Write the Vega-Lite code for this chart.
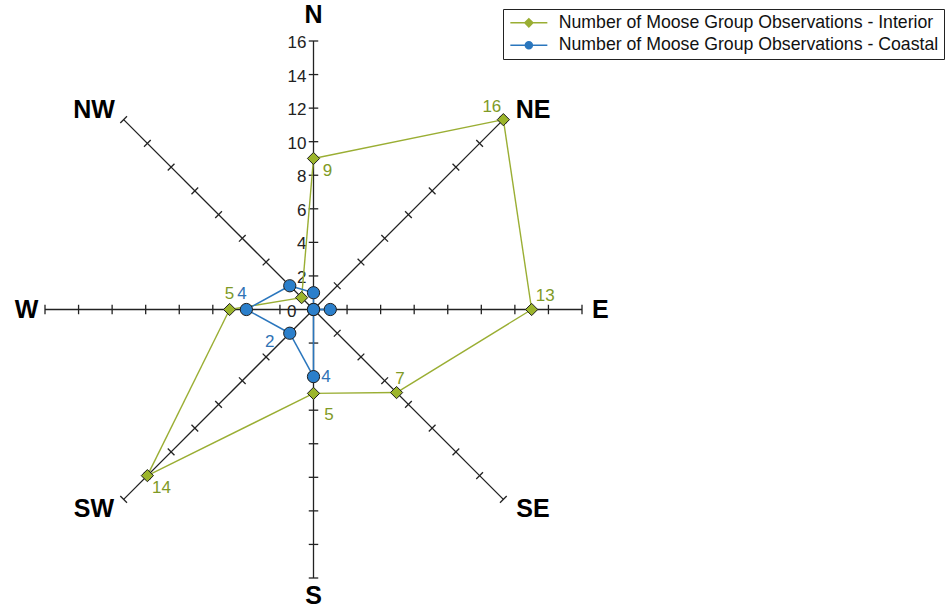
{
  "$schema": "https://vega.github.io/schema/vega-lite/v6.json",
  "width": 537,
  "height": 537,
  "autosize": {"type": "none"},
  "padding": {"left": 45, "top": 41, "right": 368, "bottom": 33},
  "background": "white",
  "config": {"view": {"stroke": null}, "font": "Liberation Sans"},
  "datasets": {
    "dirs": [
      {"dir": "N", "angle": 0, "ticks": [2, 4, 6, 8, 10, 12, 14, 16]},
      {"dir": "NE", "angle": 45, "ticks": [2, 4, 6, 8, 10, 12, 14, 16]},
      {"dir": "E", "angle": 90, "ticks": [2, 4, 6, 8, 10, 12, 14, 16]},
      {"dir": "SE", "angle": 135, "ticks": [2, 4, 6, 8, 10, 12, 14, 16]},
      {"dir": "S", "angle": 180, "ticks": [2, 4, 6, 8, 10, 12, 14, 16]},
      {"dir": "SW", "angle": 225, "ticks": [2, 4, 6, 8, 10, 12, 14, 16]},
      {"dir": "W", "angle": 270, "ticks": [2, 4, 6, 8, 10, 12, 14, 16]},
      {"dir": "NW", "angle": 315, "ticks": [2, 4, 6, 8, 10, 12, 14, 16]}
    ],
    "obs": [
      {"series": "Interior", "dir": "N", "angle": 0, "value": 9},
      {"series": "Interior", "dir": "NE", "angle": 45, "value": 16},
      {"series": "Interior", "dir": "E", "angle": 90, "value": 13},
      {"series": "Interior", "dir": "SE", "angle": 135, "value": 7},
      {"series": "Interior", "dir": "S", "angle": 180, "value": 5},
      {"series": "Interior", "dir": "SW", "angle": 225, "value": 14},
      {"series": "Interior", "dir": "W", "angle": 270, "value": 5},
      {"series": "Interior", "dir": "NW", "angle": 315, "value": 1},
      {"series": "Coastal", "dir": "N", "angle": 0, "value": 1},
      {"series": "Coastal", "dir": "NE", "angle": 45, "value": 0},
      {"series": "Coastal", "dir": "E", "angle": 90, "value": 1},
      {"series": "Coastal", "dir": "SE", "angle": 135, "value": 0},
      {"series": "Coastal", "dir": "S", "angle": 180, "value": 4},
      {"series": "Coastal", "dir": "SW", "angle": 225, "value": 2},
      {"series": "Coastal", "dir": "W", "angle": 270, "value": 4},
      {"series": "Coastal", "dir": "NW", "angle": 315, "value": 2}
    ],
    "legendItems": [
      {"series": "Number of Moose Group Observations - Interior"},
      {"series": "Number of Moose Group Observations - Coastal"}
    ]
  },
  "layer": [
    {
      "data": {"name": "legendItems"},
      "mark": {"type": "point", "filled": true, "opacity": 0, "strokeWidth": 1.5},
      "encoding": {
        "color": {
          "field": "series", "type": "nominal",
          "scale": {"domain": ["Number of Moose Group Observations - Interior", "Number of Moose Group Observations - Coastal"], "range": ["#9aae33", "#2a76bd"]},
          "legend": {
            "orient": "none", "legendX": 458, "legendY": -32, "title": null, "direction": "vertical",
            "strokeColor": "#222", "fillColor": "#ffffff", "padding": 5,
            "symbolSize": 100, "symbolOffset": 12, "labelOffset": 21,
            "labelFont": "Liberation Sans", "labelFontSize": 17.7, "labelColor": "#111",
            "labelLimit": 600, "rowPadding": 3.3,
            "encode": {"symbols": {"update": {"opacity": {"value": 1}}}}
          }
        },
        "stroke": {
          "field": "series", "type": "nominal",
          "scale": {"domain": ["Number of Moose Group Observations - Interior", "Number of Moose Group Observations - Coastal"], "range": ["#9aae33", "#2a76bd"]}
        },
        "shape": {
          "field": "series", "type": "nominal",
          "scale": {"domain": ["Number of Moose Group Observations - Interior", "Number of Moose Group Observations - Coastal"],
            "range": ["M-3.7,0L-0.8,0M0.8,0L3.7,0M0,-0.8L0.8,0L0,0.8L-0.8,0Z", "M-3.7,0L-0.7,0M0.7,0L3.7,0M0.7,0A0.7,0.7,0,1,1,-0.7,0A0.7,0.7,0,1,1,0.7,0Z"]}
        }
      }
    },
    {
      "data": {"name": "dirs"},
      "transform": [
        {"calculate": "0", "as": "o"},
        {"calculate": "16*sin(datum.angle*PI/180)", "as": "ex"},
        {"calculate": "16*cos(datum.angle*PI/180)", "as": "ey"}
      ],
      "mark": {"type": "rule", "color": "#222", "strokeWidth": 1.3},
      "encoding": {
        "x": {"field": "o", "type": "quantitative", "scale": {"domain": [-16, 16], "nice": false, "zero": false}, "axis": null},
        "y": {"field": "o", "type": "quantitative", "scale": {"domain": [-16, 16], "nice": false, "zero": false}, "axis": null},
        "x2": {"field": "ex"},
        "y2": {"field": "ey"}
      }
    },
    {
      "data": {"name": "dirs"},
      "transform": [
        {"flatten": ["ticks"]},
        {"calculate": "datum.ticks*sin(datum.angle*PI/180)", "as": "tx"},
        {"calculate": "datum.ticks*cos(datum.angle*PI/180)", "as": "ty"}
      ],
      "mark": {"type": "point", "shape": "M-1,0L1,0", "size": 90, "filled": false, "stroke": "#222", "strokeWidth": 1.3, "opacity": 1},
      "encoding": {
        "x": {"field": "tx", "type": "quantitative", "scale": {"domain": [-16, 16], "nice": false, "zero": false}, "axis": null},
        "y": {"field": "ty", "type": "quantitative", "scale": {"domain": [-16, 16], "nice": false, "zero": false}, "axis": null},
        "angle": {"field": "angle", "type": "quantitative", "scale": null}
      }
    },
    {
      "data": {"values": [{"t": 2}, {"t": 4}, {"t": 6}, {"t": 8}, {"t": 10}, {"t": 12}, {"t": 14}, {"t": 16}]},
      "transform": [{"calculate": "0", "as": "o"}],
      "mark": {"type": "text", "align": "right", "baseline": "middle", "dx": -7, "dy": 2, "font": "Liberation Sans", "fontSize": 17, "color": "#222"},
      "encoding": {
        "x": {"field": "o", "type": "quantitative", "scale": {"domain": [-16, 16], "nice": false, "zero": false}, "axis": null},
        "y": {"field": "t", "type": "quantitative", "scale": {"domain": [-16, 16], "nice": false, "zero": false}, "axis": null},
        "text": {"field": "t", "type": "nominal"}
      }
    },
    {
      "data": {"values": [{"t": 0}]},
      "transform": [{"calculate": "0", "as": "o"}],
      "mark": {"type": "text", "align": "right", "baseline": "middle", "dx": -17, "dy": 2, "font": "Liberation Sans", "fontSize": 17, "color": "#222"},
      "encoding": {
        "x": {"field": "o", "type": "quantitative", "scale": {"domain": [-16, 16], "nice": false, "zero": false}, "axis": null},
        "y": {"field": "t", "type": "quantitative", "scale": {"domain": [-16, 16], "nice": false, "zero": false}, "axis": null},
        "text": {"field": "t", "type": "nominal"}
      }
    },
    {
      "data": {"name": "obs"},
      "transform": [
        {"filter": "datum.series == 'Interior'"},
        {"calculate": "datum.value*sin(datum.angle*PI/180)", "as": "px"},
        {"calculate": "datum.value*cos(datum.angle*PI/180)", "as": "py"},
        {"window": [{"op": "lead", "field": "px", "as": "nx"}, {"op": "lead", "field": "py", "as": "ny"}, {"op": "first_value", "field": "px", "as": "fx"}, {"op": "first_value", "field": "py", "as": "fy"}], "sort": [{"field": "angle", "order": "ascending"}], "frame": [null, null]},
        {"calculate": "datum.nx == null ? datum.fx : datum.nx", "as": "qx"},
        {"calculate": "datum.ny == null ? datum.fy : datum.ny", "as": "qy"}
      ],
      "mark": {"type": "rule", "color": "#9aae33", "strokeWidth": 1.4},
      "encoding": {
        "x": {"field": "px", "type": "quantitative", "scale": {"domain": [-16, 16], "nice": false, "zero": false}, "axis": null},
        "y": {"field": "py", "type": "quantitative", "scale": {"domain": [-16, 16], "nice": false, "zero": false}, "axis": null},
        "x2": {"field": "qx"},
        "y2": {"field": "qy"}
      }
    },
    {
      "data": {"name": "obs"},
      "transform": [
        {"filter": "datum.series == 'Coastal'"},
        {"calculate": "datum.value*sin(datum.angle*PI/180)", "as": "px"},
        {"calculate": "datum.value*cos(datum.angle*PI/180)", "as": "py"},
        {"window": [{"op": "lead", "field": "px", "as": "nx"}, {"op": "lead", "field": "py", "as": "ny"}, {"op": "first_value", "field": "px", "as": "fx"}, {"op": "first_value", "field": "py", "as": "fy"}], "sort": [{"field": "angle", "order": "ascending"}], "frame": [null, null]},
        {"calculate": "datum.nx == null ? datum.fx : datum.nx", "as": "qx"},
        {"calculate": "datum.ny == null ? datum.fy : datum.ny", "as": "qy"}
      ],
      "mark": {"type": "rule", "color": "#2a76bd", "strokeWidth": 1.5},
      "encoding": {
        "x": {"field": "px", "type": "quantitative", "scale": {"domain": [-16, 16], "nice": false, "zero": false}, "axis": null},
        "y": {"field": "py", "type": "quantitative", "scale": {"domain": [-16, 16], "nice": false, "zero": false}, "axis": null},
        "x2": {"field": "qx"},
        "y2": {"field": "qy"}
      }
    },
    {
      "data": {"name": "obs"},
      "transform": [
        {"filter": "datum.series == 'Interior'"},
        {"calculate": "datum.value*sin(datum.angle*PI/180)", "as": "px"},
        {"calculate": "datum.value*cos(datum.angle*PI/180)", "as": "py"}
      ],
      "mark": {"type": "point", "shape": "diamond", "size": 150, "filled": true, "fill": "#9cb52c", "stroke": "#1e1e1e", "strokeWidth": 1, "opacity": 1},
      "encoding": {
        "x": {"field": "px", "type": "quantitative", "scale": {"domain": [-16, 16], "nice": false, "zero": false}, "axis": null},
        "y": {"field": "py", "type": "quantitative", "scale": {"domain": [-16, 16], "nice": false, "zero": false}, "axis": null}
      }
    },
    {
      "data": {"name": "obs"},
      "transform": [
        {"filter": "datum.series == 'Coastal'"},
        {"calculate": "datum.value*sin(datum.angle*PI/180)", "as": "px"},
        {"calculate": "datum.value*cos(datum.angle*PI/180)", "as": "py"}
      ],
      "mark": {"type": "point", "shape": "circle", "size": 150, "filled": true, "fill": "#2b7fcb", "stroke": "#1e1e1e", "strokeWidth": 1, "opacity": 1},
      "encoding": {
        "x": {"field": "px", "type": "quantitative", "scale": {"domain": [-16, 16], "nice": false, "zero": false}, "axis": null},
        "y": {"field": "py", "type": "quantitative", "scale": {"domain": [-16, 16], "nice": false, "zero": false}, "axis": null}
      }
    },
    {
      "data": {"name": "obs"},
      "transform": [
        {"filter": "datum.series == 'Interior' && (datum.dir == 'N' || datum.dir == 'SW')"},
        {"calculate": "datum.value*sin(datum.angle*PI/180)", "as": "px"},
        {"calculate": "datum.value*cos(datum.angle*PI/180)", "as": "py"}
      ],
      "mark": {"type": "text", "dx": 14, "dy": 12.5, "align": "center", "baseline": "middle", "font": "Liberation Sans", "fontSize": 17, "color": "#7f9a26"},
      "encoding": {
        "x": {"field": "px", "type": "quantitative", "scale": {"domain": [-16, 16], "nice": false, "zero": false}, "axis": null},
        "y": {"field": "py", "type": "quantitative", "scale": {"domain": [-16, 16], "nice": false, "zero": false}, "axis": null},
        "text": {"field": "value", "type": "nominal"}
      }
    },
    {
      "data": {"name": "obs"},
      "transform": [
        {"filter": "datum.series == 'Interior' && datum.dir == 'NE'"},
        {"calculate": "datum.value*sin(datum.angle*PI/180)", "as": "px"},
        {"calculate": "datum.value*cos(datum.angle*PI/180)", "as": "py"}
      ],
      "mark": {"type": "text", "dx": -11.5, "dy": -12.5, "align": "center", "baseline": "middle", "font": "Liberation Sans", "fontSize": 17, "color": "#7f9a26"},
      "encoding": {
        "x": {"field": "px", "type": "quantitative", "scale": {"domain": [-16, 16], "nice": false, "zero": false}, "axis": null},
        "y": {"field": "py", "type": "quantitative", "scale": {"domain": [-16, 16], "nice": false, "zero": false}, "axis": null},
        "text": {"field": "value", "type": "nominal"}
      }
    },
    {
      "data": {"name": "obs"},
      "transform": [
        {"filter": "datum.series == 'Interior' && datum.dir == 'E'"},
        {"calculate": "datum.value*sin(datum.angle*PI/180)", "as": "px"},
        {"calculate": "datum.value*cos(datum.angle*PI/180)", "as": "py"}
      ],
      "mark": {"type": "text", "dx": 13.5, "dy": -13.5, "align": "center", "baseline": "middle", "font": "Liberation Sans", "fontSize": 17, "color": "#7f9a26"},
      "encoding": {
        "x": {"field": "px", "type": "quantitative", "scale": {"domain": [-16, 16], "nice": false, "zero": false}, "axis": null},
        "y": {"field": "py", "type": "quantitative", "scale": {"domain": [-16, 16], "nice": false, "zero": false}, "axis": null},
        "text": {"field": "value", "type": "nominal"}
      }
    },
    {
      "data": {"name": "obs"},
      "transform": [
        {"filter": "datum.series == 'Interior' && datum.dir == 'SE'"},
        {"calculate": "datum.value*sin(datum.angle*PI/180)", "as": "px"},
        {"calculate": "datum.value*cos(datum.angle*PI/180)", "as": "py"}
      ],
      "mark": {"type": "text", "dx": 3.5, "dy": -14, "align": "center", "baseline": "middle", "font": "Liberation Sans", "fontSize": 17, "color": "#7f9a26"},
      "encoding": {
        "x": {"field": "px", "type": "quantitative", "scale": {"domain": [-16, 16], "nice": false, "zero": false}, "axis": null},
        "y": {"field": "py", "type": "quantitative", "scale": {"domain": [-16, 16], "nice": false, "zero": false}, "axis": null},
        "text": {"field": "value", "type": "nominal"}
      }
    },
    {
      "data": {"name": "obs"},
      "transform": [
        {"filter": "datum.series == 'Interior' && datum.dir == 'S'"},
        {"calculate": "datum.value*sin(datum.angle*PI/180)", "as": "px"},
        {"calculate": "datum.value*cos(datum.angle*PI/180)", "as": "py"}
      ],
      "mark": {"type": "text", "dx": 15.5, "dy": 21.5, "align": "center", "baseline": "middle", "font": "Liberation Sans", "fontSize": 17, "color": "#7f9a26"},
      "encoding": {
        "x": {"field": "px", "type": "quantitative", "scale": {"domain": [-16, 16], "nice": false, "zero": false}, "axis": null},
        "y": {"field": "py", "type": "quantitative", "scale": {"domain": [-16, 16], "nice": false, "zero": false}, "axis": null},
        "text": {"field": "value", "type": "nominal"}
      }
    },
    {
      "data": {"name": "obs"},
      "transform": [
        {"filter": "datum.series == 'Interior' && datum.dir == 'W'"},
        {"calculate": "datum.value*sin(datum.angle*PI/180)", "as": "px"},
        {"calculate": "datum.value*cos(datum.angle*PI/180)", "as": "py"}
      ],
      "mark": {"type": "text", "dx": 0, "dy": -15.5, "align": "center", "baseline": "middle", "font": "Liberation Sans", "fontSize": 17, "color": "#7f9a26"},
      "encoding": {
        "x": {"field": "px", "type": "quantitative", "scale": {"domain": [-16, 16], "nice": false, "zero": false}, "axis": null},
        "y": {"field": "py", "type": "quantitative", "scale": {"domain": [-16, 16], "nice": false, "zero": false}, "axis": null},
        "text": {"field": "value", "type": "nominal"}
      }
    },
    {
      "data": {"name": "obs"},
      "transform": [
        {"filter": "datum.series == 'Coastal' && datum.dir == 'W'"},
        {"calculate": "datum.value*sin(datum.angle*PI/180)", "as": "px"},
        {"calculate": "datum.value*cos(datum.angle*PI/180)", "as": "py"}
      ],
      "mark": {"type": "text", "dx": -4.4, "dy": -15.5, "align": "center", "baseline": "middle", "font": "Liberation Sans", "fontSize": 17, "color": "#2f72b5"},
      "encoding": {
        "x": {"field": "px", "type": "quantitative", "scale": {"domain": [-16, 16], "nice": false, "zero": false}, "axis": null},
        "y": {"field": "py", "type": "quantitative", "scale": {"domain": [-16, 16], "nice": false, "zero": false}, "axis": null},
        "text": {"field": "value", "type": "nominal"}
      }
    },
    {
      "data": {"name": "obs"},
      "transform": [
        {"filter": "datum.series == 'Coastal' && datum.dir == 'SW'"},
        {"calculate": "datum.value*sin(datum.angle*PI/180)", "as": "px"},
        {"calculate": "datum.value*cos(datum.angle*PI/180)", "as": "py"}
      ],
      "mark": {"type": "text", "dx": -20, "dy": 8.5, "align": "center", "baseline": "middle", "font": "Liberation Sans", "fontSize": 17, "color": "#2f72b5"},
      "encoding": {
        "x": {"field": "px", "type": "quantitative", "scale": {"domain": [-16, 16], "nice": false, "zero": false}, "axis": null},
        "y": {"field": "py", "type": "quantitative", "scale": {"domain": [-16, 16], "nice": false, "zero": false}, "axis": null},
        "text": {"field": "value", "type": "nominal"}
      }
    },
    {
      "data": {"name": "obs"},
      "transform": [
        {"filter": "datum.series == 'Coastal' && datum.dir == 'S'"},
        {"calculate": "datum.value*sin(datum.angle*PI/180)", "as": "px"},
        {"calculate": "datum.value*cos(datum.angle*PI/180)", "as": "py"}
      ],
      "mark": {"type": "text", "dx": 12.5, "dy": 0.5, "align": "center", "baseline": "middle", "font": "Liberation Sans", "fontSize": 17, "color": "#2f72b5"},
      "encoding": {
        "x": {"field": "px", "type": "quantitative", "scale": {"domain": [-16, 16], "nice": false, "zero": false}, "axis": null},
        "y": {"field": "py", "type": "quantitative", "scale": {"domain": [-16, 16], "nice": false, "zero": false}, "axis": null},
        "text": {"field": "value", "type": "nominal"}
      }
    },
    {
      "data": {"name": "dirs"},
      "transform": [
        {"calculate": "sin(datum.angle*PI/180) * (datum.angle % 90 == 0 ? 17.1 : 18.5)", "as": "lx"},
        {"calculate": "cos(datum.angle*PI/180) * (datum.angle == 0 ? 17.55 : (datum.angle % 90 == 0 ? 17.1 : 16.8))", "as": "ly"}
      ],
      "mark": {"type": "text", "align": "center", "baseline": "middle", "font": "Liberation Sans", "fontWeight": "bold", "fontSize": 25, "color": "#000"},
      "encoding": {
        "x": {"field": "lx", "type": "quantitative", "scale": {"domain": [-16, 16], "nice": false, "zero": false}, "axis": null},
        "y": {"field": "ly", "type": "quantitative", "scale": {"domain": [-16, 16], "nice": false, "zero": false}, "axis": null},
        "text": {"field": "dir", "type": "nominal"}
      }
    }
  ]
}
